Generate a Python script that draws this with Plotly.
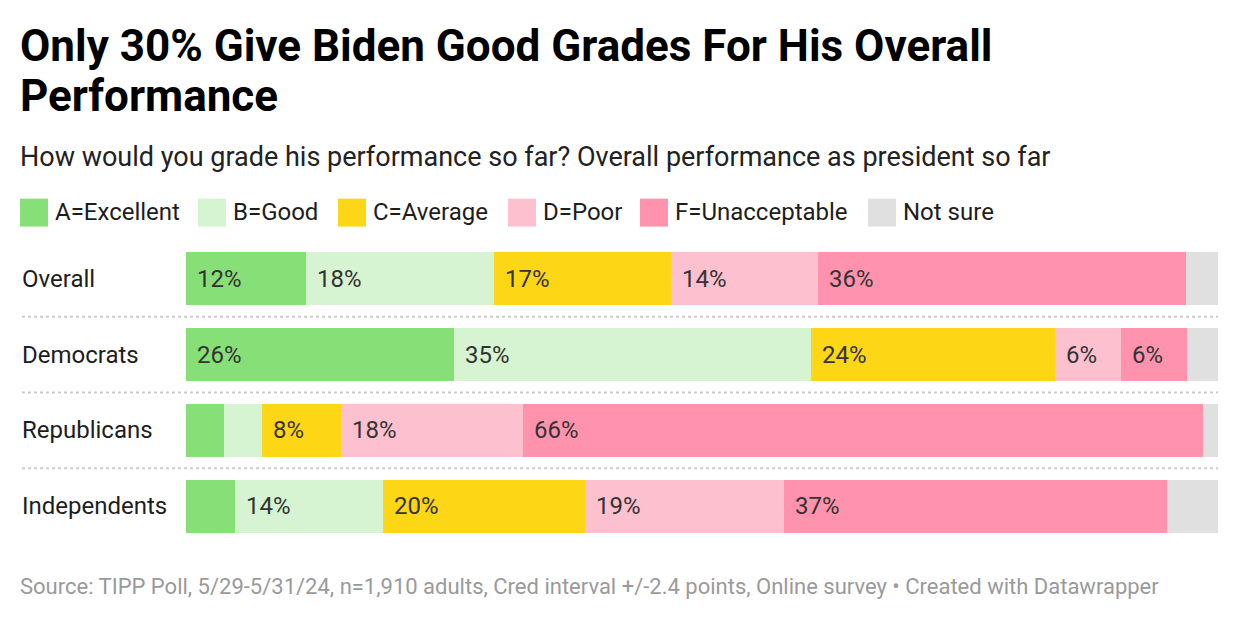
import plotly.graph_objects as go

# ---------------- data ----------------
groups = ["Overall", "Democrats", "Republicans", "Independents"]
series = ["A=Excellent", "B=Good", "C=Average", "D=Poor", "F=Unacceptable", "Not sure"]
excellent = [11.6, 26.0, 3.7, 4.7]
good = [18.2, 34.6, 3.7, 14.4]
average = [17.2, 23.6, 7.6, 19.6]
poor = [14.2, 6.4, 17.7, 19.2]
unacceptable = [35.7, 6.4, 65.8, 37.2]
not_sure = [3.1, 3.0, 1.5, 4.9]
colors = ["#87df77", "#d6f3d2", "#fdd615", "#fdc0cf", "#ff93ad", "#e0e0e0"]

title_lines = ["Only 30% Give Biden Good Grades For His Overall", "Performance"]
subtitle = "How would you grade his performance so far? Overall performance as president so far"
footer = ("Source: TIPP Poll, 5/29-5/31/24, n=1,910 adults, Cred interval +/-2.4 points, "
          "Online survey • Created with Datawrapper")

values = [excellent, good, average, poor, unacceptable, not_sure]
show_label = [True, True, True, True, True, False]
LABEL_MIN = 5

# ---------------- geometry helpers ----------------
OFF = 8  # page body margin
W, H = 1240 - OFF, 622 - OFF
L, R = 186 - OFF, 1218 - OFF
PT, PB = 240.5 - OFF, 544.5 - OFF
FONT = "Roboto"


def px_x(x):
    return (x - OFF - L) / (R - L)


def px_y(y):
    return (PB - (y - OFF)) / (PB - PT)


fig = go.Figure()
for name, vals, col in zip(series, values, colors):
    fig.add_trace(go.Bar(
        y=groups, x=vals, name=name, orientation="h",
        marker=dict(color=col, line=dict(width=0)),
        width=0.70, hoverinfo="x+name", showlegend=False,
    ))

annotations = []
shapes = []

# value labels inside bars
for gi, g in enumerate(groups):
    start = 0.0
    for si, vals in enumerate(values):
        v = vals[gi]
        if show_label[si] and v >= LABEL_MIN:
            annotations.append(dict(
                x=start, y=g, xref="x", yref="y", text=f"{round(v):d}%",
                showarrow=False, xanchor="left", yanchor="middle", xshift=9,
                font=dict(family=FONT, size=24, color="#333333"),
            ))
        start += v

# row labels
for g in groups:
    annotations.append(dict(
        x=px_x(20), y=g, xref="paper", yref="y", text=g, showarrow=False,
        xanchor="left", yanchor="middle",
        font=dict(family=FONT, size=24, color="#1d1d1d"),
    ))

# dotted separators
for k in range(len(groups) - 1):
    shapes.append(dict(
        type="line", xref="paper", yref="y", x0=px_x(22), x1=1,
        y0=k + 0.5, y1=k + 0.5, line=dict(color="#cccccc", width=2, dash="dot"),
    ))

# legend (custom squares)
legend_x = [20, 198, 338, 508, 640, 868]
for lx, name, col in zip(legend_x, series, colors):
    shapes.append(dict(
        type="rect", xref="paper", yref="paper",
        x0=px_x(lx), x1=px_x(lx + 28), y0=px_y(226), y1=px_y(198),
        fillcolor=col, line=dict(width=0),
    ))
    annotations.append(dict(
        x=px_x(lx + 33), y=px_y(211), xref="paper", yref="paper", text=name,
        showarrow=False, xanchor="left", yanchor="middle",
        font=dict(family=FONT, size=24, color="#1d1d1d"),
    ))

# title, subtitle, footer
for line, yc in zip(title_lines, [45, 95]):
    annotations.append(dict(
        x=px_x(18), y=px_y(yc), xref="paper", yref="paper", text=f"<b>{line}</b>",
        showarrow=False, xanchor="left", yanchor="middle", align="left",
        font=dict(family=FONT, size=44, color="#000000"),
    ))
annotations.append(dict(
    x=px_x(18), y=px_y(156), xref="paper", yref="paper", text=subtitle,
    showarrow=False, xanchor="left", yanchor="middle", align="left",
    font=dict(family=FONT, size=27, color="#222222"),
))
annotations.append(dict(
    x=px_x(18), y=px_y(587), xref="paper", yref="paper", text=footer,
    showarrow=False, xanchor="left", yanchor="middle", align="left",
    font=dict(family=FONT, size=22, color="#9a9a9a"),
))

fig.update_layout(
    width=W, height=H,
    margin=dict(l=L, r=W - R, t=PT, b=H - PB, pad=0),
    barmode="stack", bargap=0.3,
    paper_bgcolor="white", plot_bgcolor="white",
    xaxis=dict(range=[0, 100], visible=False, fixedrange=True),
    yaxis=dict(categoryorder="array", categoryarray=groups, autorange="reversed",
               showticklabels=False, showgrid=False, zeroline=False, fixedrange=True),
    annotations=annotations, shapes=shapes,
    font=dict(family=FONT),
)

fig.write_html("out.html", config={"displayModeBar": False})
